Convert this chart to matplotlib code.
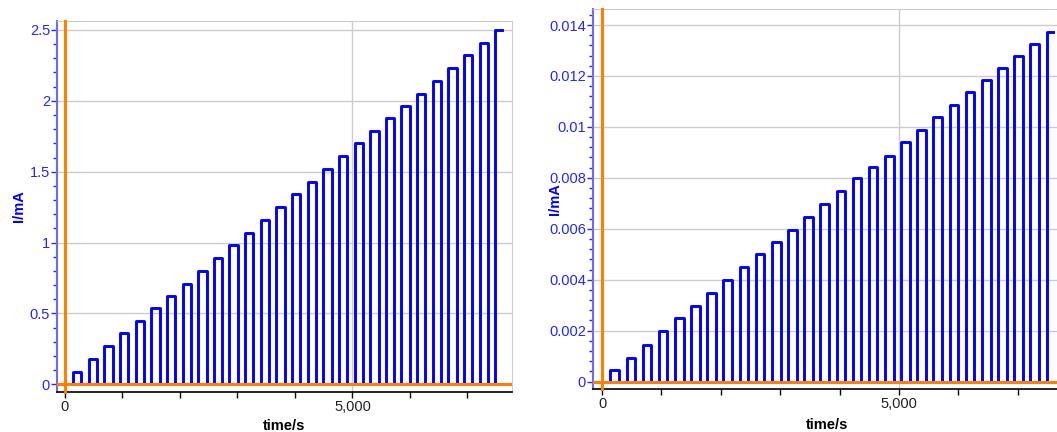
import numpy as np
import matplotlib
matplotlib.use("Agg")
import matplotlib.pyplot as plt
from matplotlib.ticker import FixedLocator, MultipleLocator, FuncFormatter

plt.rcParams["font.family"] = ["Liberation Sans", "DejaVu Sans"]

# pulse schedule (s) shared by both runs
pulse_start = [140, 412, 684, 956, 1228, 1500, 1772, 2044, 2316, 2588,
               2860, 3132, 3404, 3676, 3948, 4220, 4492, 4764, 5036, 5308,
               5580, 5852, 6124, 6396, 6668, 6940, 7212, 7484]
pulse_len = 145
t_end = 7600

# current during each pulse, mA
current_a = [0.09, 0.18, 0.27, 0.36, 0.45, 0.54, 0.62, 0.71, 0.80, 0.89,
             0.98, 1.07, 1.16, 1.25, 1.34, 1.43, 1.52, 1.61, 1.70, 1.79,
             1.88, 1.96, 2.05, 2.14, 2.23, 2.32, 2.41, 2.50]
current_b = [0.00047, 0.00094, 0.00142, 0.00197, 0.00248, 0.00297, 0.00349,
             0.00400, 0.00450, 0.00502, 0.00550, 0.00597, 0.00646, 0.00699,
             0.00749, 0.00801, 0.00844, 0.00886, 0.00939, 0.00988, 0.01037,
             0.01085, 0.01137, 0.01183, 0.01233, 0.01278, 0.01327, 0.01373]

BLUE = "#0000ff"
ORANGE = "#ff7f00"
TICK_BLUE = "#2626ff"


def square_wave(starts, levels, width, end):
    t, y = [0.0], [0.0]
    for s, v in zip(starts, levels):
        stop = min(s + width, end)
        t += [s, s, stop]
        y += [0.0, v, v]
        if s + width < end:
            t += [stop]
            y += [0.0]
    if t[-1] < end:
        t.append(end)
        y.append(y[-1])
    return np.array(t), np.array(y)


def style_axes(ax, xlim, ylim, ymajor, yminor, yfmt, xlabelpad):
    ax.set_xlim(*xlim)
    ax.set_ylim(*ylim)
    ax.axvline(0, color=ORANGE, lw=2.2, zorder=4, clip_on=False)
    ax.axhline(0, color=ORANGE, lw=2.2, zorder=4)
    ax.xaxis.set_major_locator(FixedLocator([0, 5000]))
    ax.xaxis.set_minor_locator(MultipleLocator(1000))
    ax.xaxis.set_major_formatter(FuncFormatter(lambda v, p: f"{v:,.0f}"))
    ax.yaxis.set_major_locator(MultipleLocator(ymajor))
    ax.yaxis.set_minor_locator(MultipleLocator(yminor))
    ax.yaxis.set_major_formatter(FuncFormatter(yfmt))
    ax.grid(True, which="major", color="#cccccc", lw=1.0, zorder=0)
    ax.set_axisbelow(True)
    for side in ("top", "right"):
        ax.spines[side].set_color("#cccccc")
    ax.spines["left"].set_color("#6a6aff")
    ax.spines["left"].set_linewidth(1.5)
    ax.spines["bottom"].set_color("black")
    ax.spines["bottom"].set_linewidth(1.2)
    ax.tick_params(axis="x", which="major", length=4, width=1.0, pad=1.5,
                   color="black", labelsize=10.5, labelcolor="#222222")
    ax.tick_params(axis="x", which="minor", length=4, width=1.0, color="black")
    ax.tick_params(axis="y", which="major", length=4, width=1.0, pad=1,
                   color=TICK_BLUE, labelsize=10.5, labelcolor=TICK_BLUE)
    ax.tick_params(axis="y", which="minor", length=3, width=1.0, color=TICK_BLUE)
    ax.set_xlabel("time/s", fontsize=10.5, fontweight="bold",
                  labelpad=xlabelpad)
    ax.set_ylabel("I/mA", fontsize=10.5, fontweight="bold", color=BLUE)


W, H = 1057, 432
fig = plt.figure(figsize=(W / 100, H / 100), dpi=100)

ax1 = fig.add_axes([57 / W, (H - 392) / H, (512 - 57) / W, (392 - 21) / H])
t1, y1 = square_wave(pulse_start, current_a, pulse_len, t_end)
ax1.plot(t1, y1, color=BLUE, lw=2.1, zorder=3, solid_joinstyle="round")
style_axes(ax1, (-139, 7774), (-0.054, 2.563), 0.5, 0.1,
           lambda v, p: f"{v:g}", 4)
ax1.yaxis.set_label_coords(-0.068, 0.5)

ax2 = fig.add_axes([593 / W, (H - 389) / H, (1062 - 593) / W, (389 - 9) / H])
t2, y2 = square_wave(pulse_start, current_b, pulse_len, t_end)
ax2.plot(t2, y2, color=BLUE, lw=2.1, zorder=3, solid_joinstyle="round")
style_axes(ax2, (-152, 7744), (-0.00029, 0.01463), 0.002, 0.0004,
           lambda v, p: "0" if abs(v) < 1e-12 else f"{v:.3f}".rstrip("0"), 5)
ax2.yaxis.set_label_coords(-0.066, 0.5)

fig.savefig("out.png", dpi=100)
